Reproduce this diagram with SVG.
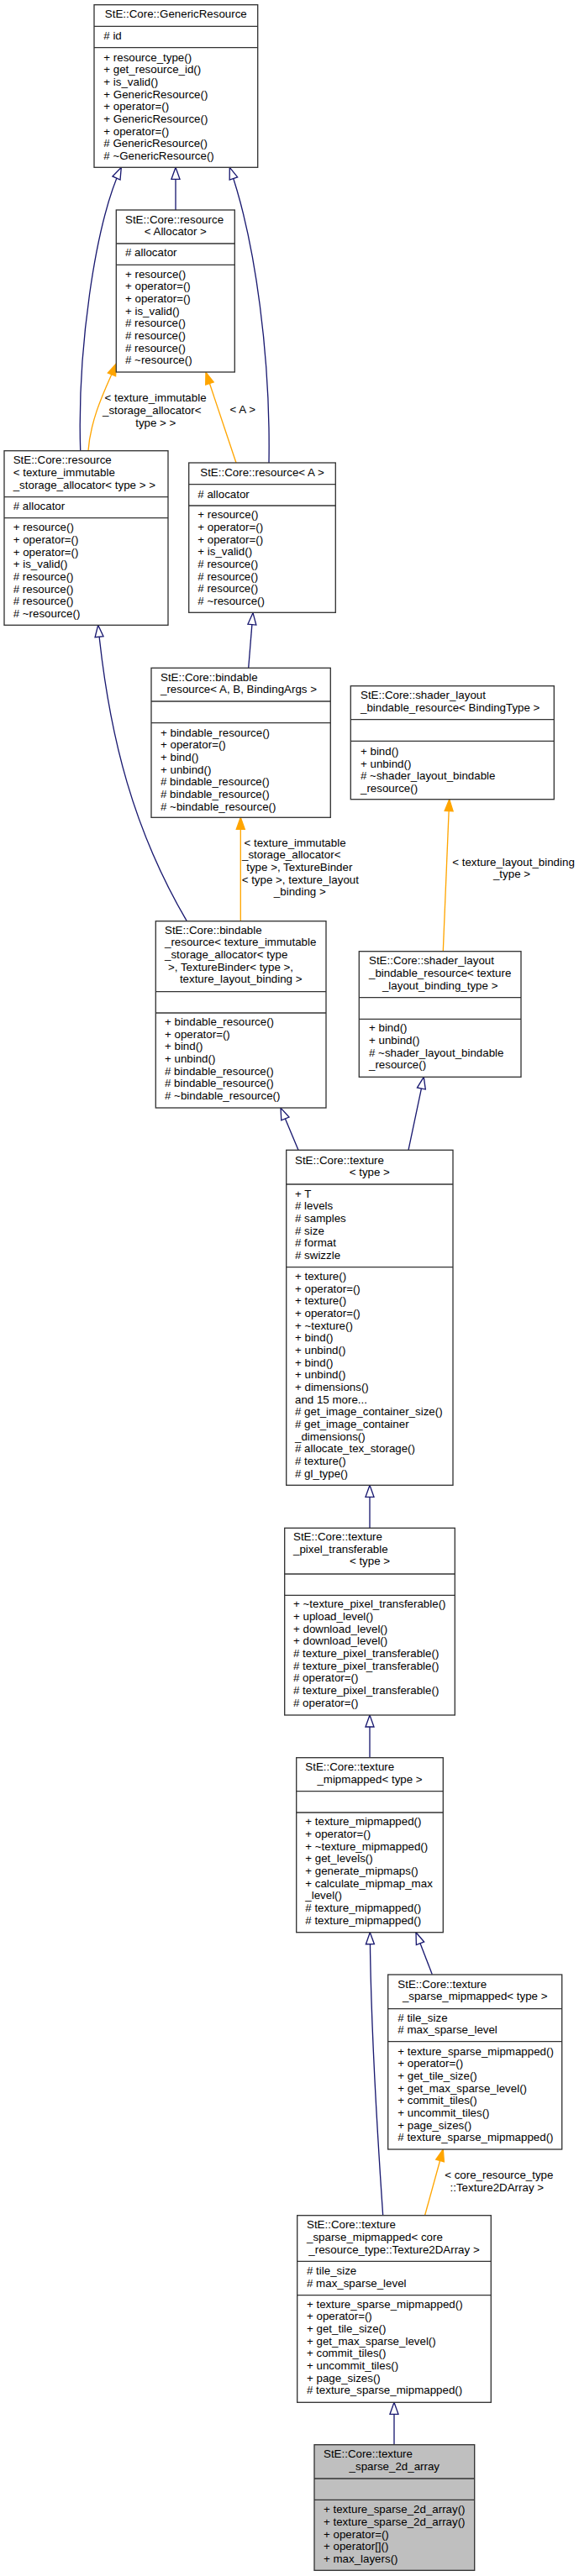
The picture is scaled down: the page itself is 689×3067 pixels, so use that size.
<svg xmlns="http://www.w3.org/2000/svg" width="689" height="3067" viewBox="0 0 689 3067">
<style>
text{font-family:"Liberation Sans",Arial,Helvetica,sans-serif;font-size:13.33px;fill:#000}
.c{text-anchor:middle}
.box{fill:#fff;stroke:#333;stroke-width:1.33}
.main{fill:#bfbfbf;stroke:#333;stroke-width:1.33}
.div{stroke:#333;stroke-width:1.33}
.inh{fill:none;stroke:#191970;stroke-width:1.33;marker-end:url(#open)}
.tpl{fill:none;stroke:#ffa500;stroke-width:1.33;marker-end:url(#filled)}
</style>
<defs>
<marker id="open" markerUnits="userSpaceOnUse" markerWidth="15" markerHeight="11" refX="14" refY="5" orient="auto" overflow="visible"><path d="M0,0 L14,5 L0,10 Z" fill="#fff" stroke="#191970" stroke-width="1.33"/></marker>
<marker id="filled" markerUnits="userSpaceOnUse" markerWidth="15" markerHeight="11" refX="14" refY="5" orient="auto" overflow="visible"><path d="M0,0 L14,5 L0,10 Z" fill="#ffa500" stroke="#ffa500" stroke-width="1.33"/></marker>
</defs>
<rect width="689" height="3067" fill="#fff"/>
<g id="connectors">
<path class="inh" d="M209,250 L209,199.3"/>
<path class="inh" d="M95.7,536.7 C92,420 112,270 144.3,199.3"/>
<path class="inh" d="M320,551 C322,430 305,290 273.3,199.3"/>
<path class="tpl" d="M105,536.7 C108,495 128,458 138.3,433"/>
<text class="c" x="185" y="478.3">&lt; texture_immutable</text>
<text class="c" x="180.7" y="493">_storage_allocator&lt;</text>
<text class="c" x="185.3" y="507.7">type &gt; &gt;</text>
<path class="tpl" d="M281,551 L245,443.3"/>
<text class="c" x="288.8" y="492.3">&lt; A &gt;</text>
<path class="inh" d="M295.7,795.3 L301,729.7"/>
<path class="inh" d="M222.3,1096.7 C160,990 130,880 116.7,744.3"/>
<path class="tpl" d="M286.3,1096.7 L286.3,973.3"/>
<text class="c" x="351" y="1007.7">&lt; texture_immutable</text>
<text class="c" x="346.7" y="1022.3">_storage_allocator&lt;</text>
<text class="c" x="356.3" y="1037">type &gt;, TextureBinder</text>
<text class="c" x="357.3" y="1051.7">&lt; type &gt;, texture_layout</text>
<text class="c" x="356.8" y="1066.3">_binding &gt;</text>
<path class="tpl" d="M527.3,1132.3 L534.7,951.7"/>
<text class="c" x="611" y="1030.7">&lt; texture_layout_binding</text>
<text class="c" x="609" y="1045.3">_type &gt;</text>
<path class="inh" d="M355,1369.3 L334,1319"/>
<path class="inh" d="M486,1369.3 L504.3,1282.3"/>
<path class="inh" d="M440,1819.3 L440,1768.3"/>
<path class="inh" d="M440,2092.7 L440,2042"/>
<path class="inh" d="M514.3,2350.7 L495,2300.7"/>
<path class="inh" d="M455.7,2637.7 C449,2540 441,2400 440.3,2300.7"/>
<path class="tpl" d="M505.7,2637.3 L527.3,2559"/>
<text class="c" x="593.8" y="2594">&lt; core_resource_type</text>
<text class="c" x="591.3" y="2608.7">::Texture2DArray &gt;</text>
<path class="inh" d="M469,2910.7 L469,2860.3"/>
</g>
<g id="GenericResource">
<rect class="box" x="112" y="5.7" width="194.7" height="193.6"/>
<line class="div" x1="112" y1="31.3" x2="306.7" y2="31.3"/>
<line class="div" x1="112" y1="56.7" x2="306.7" y2="56.7"/>
<text class="c" x="209.3" y="20.7">StE::Core::GenericResource</text>
<text x="123.3" y="46.7"># id</text>
<text x="123.3" y="72.7"><tspan x="123.3">+ resource_type()</tspan><tspan x="123.3" dy="14.67">+ get_resource_id()</tspan><tspan x="123.3" dy="14.67">+ is_valid()</tspan><tspan x="123.3" dy="14.67">+ GenericResource()</tspan><tspan x="123.3" dy="14.67">+ operator=()</tspan><tspan x="123.3" dy="14.67">+ GenericResource()</tspan><tspan x="123.3" dy="14.67">+ operator=()</tspan><tspan x="123.3" dy="14.67"># GenericResource()</tspan><tspan x="123.3" dy="14.67"># ~GenericResource()</tspan></text>
</g>
<g id="resource_Allocator">
<rect class="box" x="138.3" y="250" width="141" height="193"/>
<line class="div" x1="138.3" y1="290" x2="279.3" y2="290"/>
<line class="div" x1="138.3" y1="315.3" x2="279.3" y2="315.3"/>
<text x="149" y="265.7">StE::Core::resource</text>
<text class="c" x="208.8" y="280.4">&lt; Allocator &gt;</text>
<text x="149" y="305"># allocator</text>
<text x="149" y="330.7"><tspan x="149">+ resource()</tspan><tspan x="149" dy="14.67">+ operator=()</tspan><tspan x="149" dy="14.67">+ operator=()</tspan><tspan x="149" dy="14.67">+ is_valid()</tspan><tspan x="149" dy="14.67"># resource()</tspan><tspan x="149" dy="14.67"># resource()</tspan><tspan x="149" dy="14.67"># resource()</tspan><tspan x="149" dy="14.67"># ~resource()</tspan></text>
</g>
<g id="resource_texture_immutable">
<rect class="box" x="5" y="536.7" width="195" height="207.6"/>
<line class="div" x1="5" y1="591.7" x2="200" y2="591.7"/>
<line class="div" x1="5" y1="616.7" x2="200" y2="616.7"/>
<text x="15.7" y="552.3"><tspan x="15.7">StE::Core::resource</tspan><tspan x="15.7" dy="14.67">&lt; texture_immutable</tspan><tspan x="15.7" dy="14.67">_storage_allocator&lt; type &gt; &gt;</tspan></text>
<text x="15.7" y="606.7"># allocator</text>
<text x="15.7" y="632.3"><tspan x="15.7">+ resource()</tspan><tspan x="15.7" dy="14.67">+ operator=()</tspan><tspan x="15.7" dy="14.67">+ operator=()</tspan><tspan x="15.7" dy="14.67">+ is_valid()</tspan><tspan x="15.7" dy="14.67"># resource()</tspan><tspan x="15.7" dy="14.67"># resource()</tspan><tspan x="15.7" dy="14.67"># resource()</tspan><tspan x="15.7" dy="14.67"># ~resource()</tspan></text>
</g>
<g id="resource_A">
<rect class="box" x="224.7" y="551" width="174.6" height="178.3"/>
<line class="div" x1="224.7" y1="576.7" x2="399.3" y2="576.7"/>
<line class="div" x1="224.7" y1="602" x2="399.3" y2="602"/>
<text class="c" x="312" y="566.7">StE::Core::resource&lt; A &gt;</text>
<text x="235.3" y="592.7"># allocator</text>
<text x="235.3" y="617.3"><tspan x="235.3">+ resource()</tspan><tspan x="235.3" dy="14.67">+ operator=()</tspan><tspan x="235.3" dy="14.67">+ operator=()</tspan><tspan x="235.3" dy="14.67">+ is_valid()</tspan><tspan x="235.3" dy="14.67"># resource()</tspan><tspan x="235.3" dy="14.67"># resource()</tspan><tspan x="235.3" dy="14.67"># resource()</tspan><tspan x="235.3" dy="14.67"># ~resource()</tspan></text>
</g>
<g id="bindable_resource_ABArgs">
<rect class="box" x="180" y="795.3" width="213.3" height="178"/>
<line class="div" x1="180" y1="835" x2="393.3" y2="835"/>
<line class="div" x1="180" y1="860.7" x2="393.3" y2="860.7"/>
<text x="191" y="810.7"><tspan x="191">StE::Core::bindable</tspan><tspan x="191" dy="14.67">_resource&lt; A, B, BindingArgs &gt;</tspan></text>
<text x="191" y="876.7"><tspan x="191">+ bindable_resource()</tspan><tspan x="191" dy="14.67">+ operator=()</tspan><tspan x="191" dy="14.67">+ bind()</tspan><tspan x="191" dy="14.67">+ unbind()</tspan><tspan x="191" dy="14.67"># bindable_resource()</tspan><tspan x="191" dy="14.67"># bindable_resource()</tspan><tspan x="191" dy="14.67"># ~bindable_resource()</tspan></text>
</g>
<g id="shader_layout_BindingType">
<rect class="box" x="417.3" y="816.7" width="242" height="135"/>
<line class="div" x1="417.3" y1="856.7" x2="659.3" y2="856.7"/>
<line class="div" x1="417.3" y1="882.3" x2="659.3" y2="882.3"/>
<text x="429" y="832.3"><tspan x="429">StE::Core::shader_layout</tspan><tspan x="429" dy="14.67">_bindable_resource&lt; BindingType &gt;</tspan></text>
<text x="429" y="899"><tspan x="429">+ bind()</tspan><tspan x="429" dy="14.67">+ unbind()</tspan><tspan x="429" dy="14.67"># ~shader_layout_bindable</tspan><tspan x="429" dy="14.67">_resource()</tspan></text>
</g>
<g id="shader_layout_texture">
<rect class="box" x="427.3" y="1132.7" width="192.7" height="149.6"/>
<line class="div" x1="427.3" y1="1187.7" x2="620" y2="1187.7"/>
<line class="div" x1="427.3" y1="1213.3" x2="620" y2="1213.3"/>
<text x="439" y="1148.3"><tspan x="439">StE::Core::shader_layout</tspan><tspan x="439" dy="14.67">_bindable_resource&lt; texture</tspan></text>
<text class="c" x="523.7" y="1177.7">_layout_binding_type &gt;</text>
<text x="439" y="1228.3"><tspan x="439">+ bind()</tspan><tspan x="439" dy="14.67">+ unbind()</tspan><tspan x="439" dy="14.67"># ~shader_layout_bindable</tspan><tspan x="439" dy="14.67">_resource()</tspan></text>
</g>
<g id="bindable_resource_texture">
<rect class="box" x="185.3" y="1096.7" width="202.7" height="222.3"/>
<line class="div" x1="185.3" y1="1180.7" x2="388" y2="1180.7"/>
<line class="div" x1="185.3" y1="1206" x2="388" y2="1206"/>
<text x="196" y="1111.7"><tspan x="196">StE::Core::bindable</tspan><tspan x="196" dy="14.67">_resource&lt; texture_immutable</tspan><tspan x="196" dy="14.67">_storage_allocator&lt; type</tspan><tspan x="200" dy="14.67">&gt;, TextureBinder&lt; type &gt;,</tspan></text>
<text class="c" x="286.7" y="1170.3">texture_layout_binding &gt;</text>
<text x="196" y="1221"><tspan x="196">+ bindable_resource()</tspan><tspan x="196" dy="14.67">+ operator=()</tspan><tspan x="196" dy="14.67">+ bind()</tspan><tspan x="196" dy="14.67">+ unbind()</tspan><tspan x="196" dy="14.67"># bindable_resource()</tspan><tspan x="196" dy="14.67"># bindable_resource()</tspan><tspan x="196" dy="14.67"># ~bindable_resource()</tspan></text>
</g>
<g id="texture">
<rect class="box" x="340.7" y="1369.3" width="198.3" height="399"/>
<line class="div" x1="340.7" y1="1410" x2="539" y2="1410"/>
<line class="div" x1="340.7" y1="1508.7" x2="539" y2="1508.7"/>
<text x="351" y="1385.7">StE::Core::texture</text>
<text class="c" x="439.8" y="1400.3">&lt; type &gt;</text>
<text x="351" y="1425.7"><tspan x="351">+ T</tspan><tspan x="351" dy="14.67"># levels</tspan><tspan x="351" dy="14.67"># samples</tspan><tspan x="351" dy="14.67"># size</tspan><tspan x="351" dy="14.67"># format</tspan><tspan x="351" dy="14.67"># swizzle</tspan></text>
<text x="351" y="1524"><tspan x="351">+ texture()</tspan><tspan x="351" dy="14.67">+ operator=()</tspan><tspan x="351" dy="14.67">+ texture()</tspan><tspan x="351" dy="14.67">+ operator=()</tspan><tspan x="351" dy="14.67">+ ~texture()</tspan><tspan x="351" dy="14.67">+ bind()</tspan><tspan x="351" dy="14.67">+ unbind()</tspan><tspan x="351" dy="14.67">+ bind()</tspan><tspan x="351" dy="14.67">+ unbind()</tspan><tspan x="351" dy="14.67">+ dimensions()</tspan><tspan x="351" dy="14.67">and 15 more...</tspan><tspan x="351" dy="14.67"># get_image_container_size()</tspan><tspan x="351" dy="14.67"># get_image_container</tspan><tspan x="351" dy="14.67">_dimensions()</tspan><tspan x="351" dy="14.67"># allocate_tex_storage()</tspan><tspan x="351" dy="14.67"># texture()</tspan><tspan x="351" dy="14.67"># gl_type()</tspan></text>
</g>
<g id="texture_pixel_transferable">
<rect class="box" x="338.7" y="1819.3" width="202.6" height="222.7"/>
<line class="div" x1="338.7" y1="1874" x2="541.3" y2="1874"/>
<line class="div" x1="338.7" y1="1899.3" x2="541.3" y2="1899.3"/>
<text x="349" y="1834"><tspan x="349">StE::Core::texture</tspan><tspan x="349" dy="14.67">_pixel_transferable</tspan></text>
<text class="c" x="440" y="1863.3">&lt; type &gt;</text>
<text x="349" y="1914.3"><tspan x="349">+ ~texture_pixel_transferable()</tspan><tspan x="349" dy="14.67">+ upload_level()</tspan><tspan x="349" dy="14.67">+ download_level()</tspan><tspan x="349" dy="14.67">+ download_level()</tspan><tspan x="349" dy="14.67"># texture_pixel_transferable()</tspan><tspan x="349" dy="14.67"># texture_pixel_transferable()</tspan><tspan x="349" dy="14.67"># operator=()</tspan><tspan x="349" dy="14.67"># texture_pixel_transferable()</tspan><tspan x="349" dy="14.67"># operator=()</tspan></text>
</g>
<g id="texture_mipmapped">
<rect class="box" x="352.7" y="2092.7" width="174.6" height="208"/>
<line class="div" x1="352.7" y1="2132.7" x2="527.3" y2="2132.7"/>
<line class="div" x1="352.7" y1="2158" x2="527.3" y2="2158"/>
<text x="363.3" y="2108.3">StE::Core::texture</text>
<text class="c" x="440" y="2123">_mipmapped&lt; type &gt;</text>
<text x="363.3" y="2173.3"><tspan x="363.3">+ texture_mipmapped()</tspan><tspan x="363.3" dy="14.67">+ operator=()</tspan><tspan x="363.3" dy="14.67">+ ~texture_mipmapped()</tspan><tspan x="363.3" dy="14.67">+ get_levels()</tspan><tspan x="363.3" dy="14.67">+ generate_mipmaps()</tspan><tspan x="363.3" dy="14.67">+ calculate_mipmap_max</tspan><tspan x="363.3" dy="14.67">_level()</tspan><tspan x="363.3" dy="14.67"># texture_mipmapped()</tspan><tspan x="363.3" dy="14.67"># texture_mipmapped()</tspan></text>
</g>
<g id="texture_sparse_mipmapped_type">
<rect class="box" x="461.7" y="2351" width="207" height="208"/>
<line class="div" x1="461.7" y1="2391.7" x2="668.7" y2="2391.7"/>
<line class="div" x1="461.7" y1="2430.7" x2="668.7" y2="2430.7"/>
<text x="473.3" y="2366.7">StE::Core::texture</text>
<text class="c" x="565.2" y="2381.3">_sparse_mipmapped&lt; type &gt;</text>
<text x="473.3" y="2406.7"><tspan x="473.3"># tile_size</tspan><tspan x="473.3" dy="14.67"># max_sparse_level</tspan></text>
<text x="473.3" y="2446.7"><tspan x="473.3">+ texture_sparse_mipmapped()</tspan><tspan x="473.3" dy="14.67">+ operator=()</tspan><tspan x="473.3" dy="14.67">+ get_tile_size()</tspan><tspan x="473.3" dy="14.67">+ get_max_sparse_level()</tspan><tspan x="473.3" dy="14.67">+ commit_tiles()</tspan><tspan x="473.3" dy="14.67">+ uncommit_tiles()</tspan><tspan x="473.3" dy="14.67">+ page_sizes()</tspan><tspan x="473.3" dy="14.67"># texture_sparse_mipmapped()</tspan></text>
</g>
<g id="texture_sparse_mipmapped_core">
<rect class="box" x="353.7" y="2637.7" width="230.6" height="222.6"/>
<line class="div" x1="353.7" y1="2692.3" x2="584.3" y2="2692.3"/>
<line class="div" x1="353.7" y1="2732.7" x2="584.3" y2="2732.7"/>
<text x="365" y="2653.3"><tspan x="365">StE::Core::texture</tspan><tspan x="365" dy="14.67">_sparse_mipmapped&lt; core</tspan></text>
<text class="c" x="469" y="2682.7">_resource_type::Texture2DArray &gt;</text>
<text x="365" y="2708.3"><tspan x="365"># tile_size</tspan><tspan x="365" dy="14.67"># max_sparse_level</tspan></text>
<text x="365" y="2747.7"><tspan x="365">+ texture_sparse_mipmapped()</tspan><tspan x="365" dy="14.67">+ operator=()</tspan><tspan x="365" dy="14.67">+ get_tile_size()</tspan><tspan x="365" dy="14.67">+ get_max_sparse_level()</tspan><tspan x="365" dy="14.67">+ commit_tiles()</tspan><tspan x="365" dy="14.67">+ uncommit_tiles()</tspan><tspan x="365" dy="14.67">+ page_sizes()</tspan><tspan x="365" dy="14.67"># texture_sparse_mipmapped()</tspan></text>
</g>
<g id="texture_sparse_2d_array">
<rect class="main" x="374" y="2910.7" width="190.7" height="149.6"/>
<line class="div" x1="374" y1="2951" x2="564.7" y2="2951"/>
<line class="div" x1="374" y1="2976.3" x2="564.7" y2="2976.3"/>
<text x="385" y="2926.3">StE::Core::texture</text>
<text class="c" x="469.3" y="2941">_sparse_2d_array</text>
<text x="385" y="2992.3"><tspan x="385">+ texture_sparse_2d_array()</tspan><tspan x="385" dy="14.67">+ texture_sparse_2d_array()</tspan><tspan x="385" dy="14.67">+ operator=()</tspan><tspan x="385" dy="14.67">+ operator[]()</tspan><tspan x="385" dy="14.67">+ max_layers()</tspan></text>
</g>
</svg>
